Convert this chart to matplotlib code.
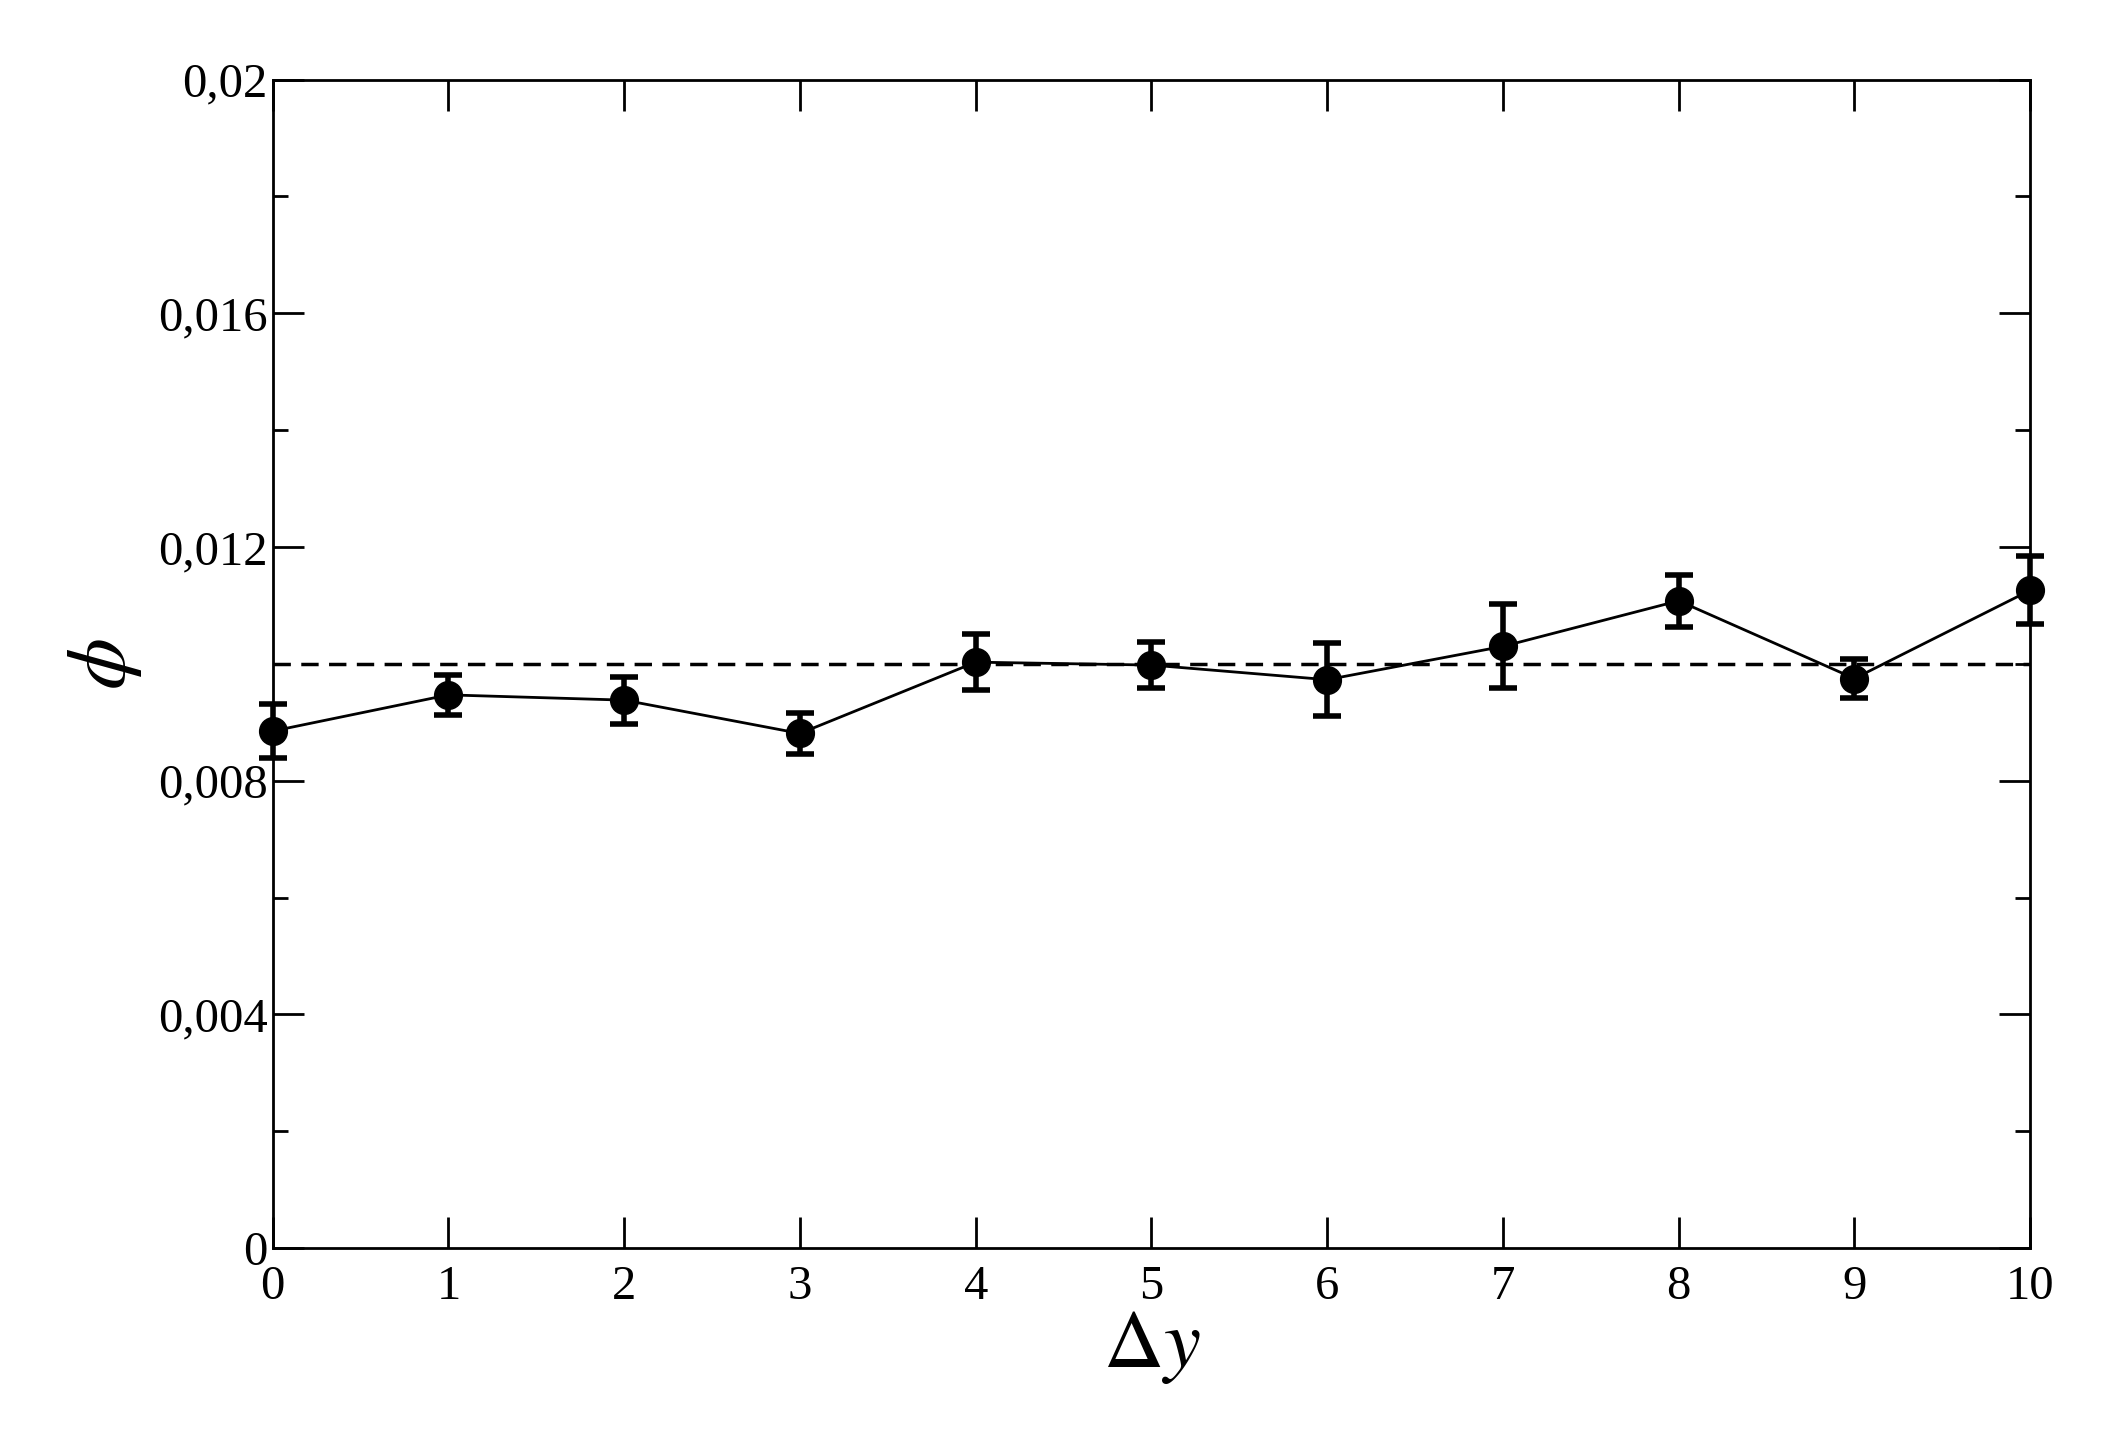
import matplotlib
matplotlib.use("Agg")
import matplotlib.pyplot as plt
from matplotlib.ticker import MultipleLocator

dy = [0, 1, 2, 3, 4, 5, 6, 7, 8, 9, 10]
phi = [0.00885, 0.00947, 0.00938, 0.00881, 0.01003, 0.00998, 0.00973, 0.0103, 0.01108, 0.00975, 0.01126]
err = [0.00046, 0.00034, 0.0004, 0.00035, 0.00048, 0.00039, 0.00062, 0.00072, 0.00044, 0.00034, 0.00058]
ref_level = 0.01
yticks = [0, 0.004, 0.008, 0.012, 0.016, 0.02]
ylabels = ["0", "0,004", "0,008", "0,012", "0,016", "0,02"]

plt.rcParams['font.family'] = ['Liberation Serif', 'DejaVu Serif']
plt.rcParams['mathtext.fontset'] = 'stix'

fig = plt.figure(figsize=(21.06, 14.48), dpi=100)
ax = fig.add_axes([0.1295, 0.138, 0.8345, 0.807])
ax.axhline(ref_level, color='black', ls=(0, (5, 3)), lw=2.5)
ax.errorbar(dy, phi, yerr=err, fmt='o-', color='black', ms=20, lw=2,
            elinewidth=4, capsize=10, capthick=4, clip_on=False, zorder=3)
ax.set_xlim(0, 10)
ax.set_ylim(0, 0.02)
ax.set_xticks(dy)
ax.set_yticks(yticks)
ax.set_yticklabels(ylabels)
ax.yaxis.set_minor_locator(MultipleLocator(0.002))
ax.tick_params(which='both', direction='in', top=True, right=True, labelsize=35, width=2)
ax.tick_params(which='major', length=22)
ax.tick_params(which='minor', length=11)
ax.tick_params(axis='x', pad=12)
for s in ax.spines.values():
    s.set_linewidth(2)
ax.set_xlabel(r'$\Delta y$', fontsize=60, labelpad=0)
ax.set_ylabel(r'$\phi$', fontsize=60, labelpad=10)
fig.savefig("out.png", dpi=100)
